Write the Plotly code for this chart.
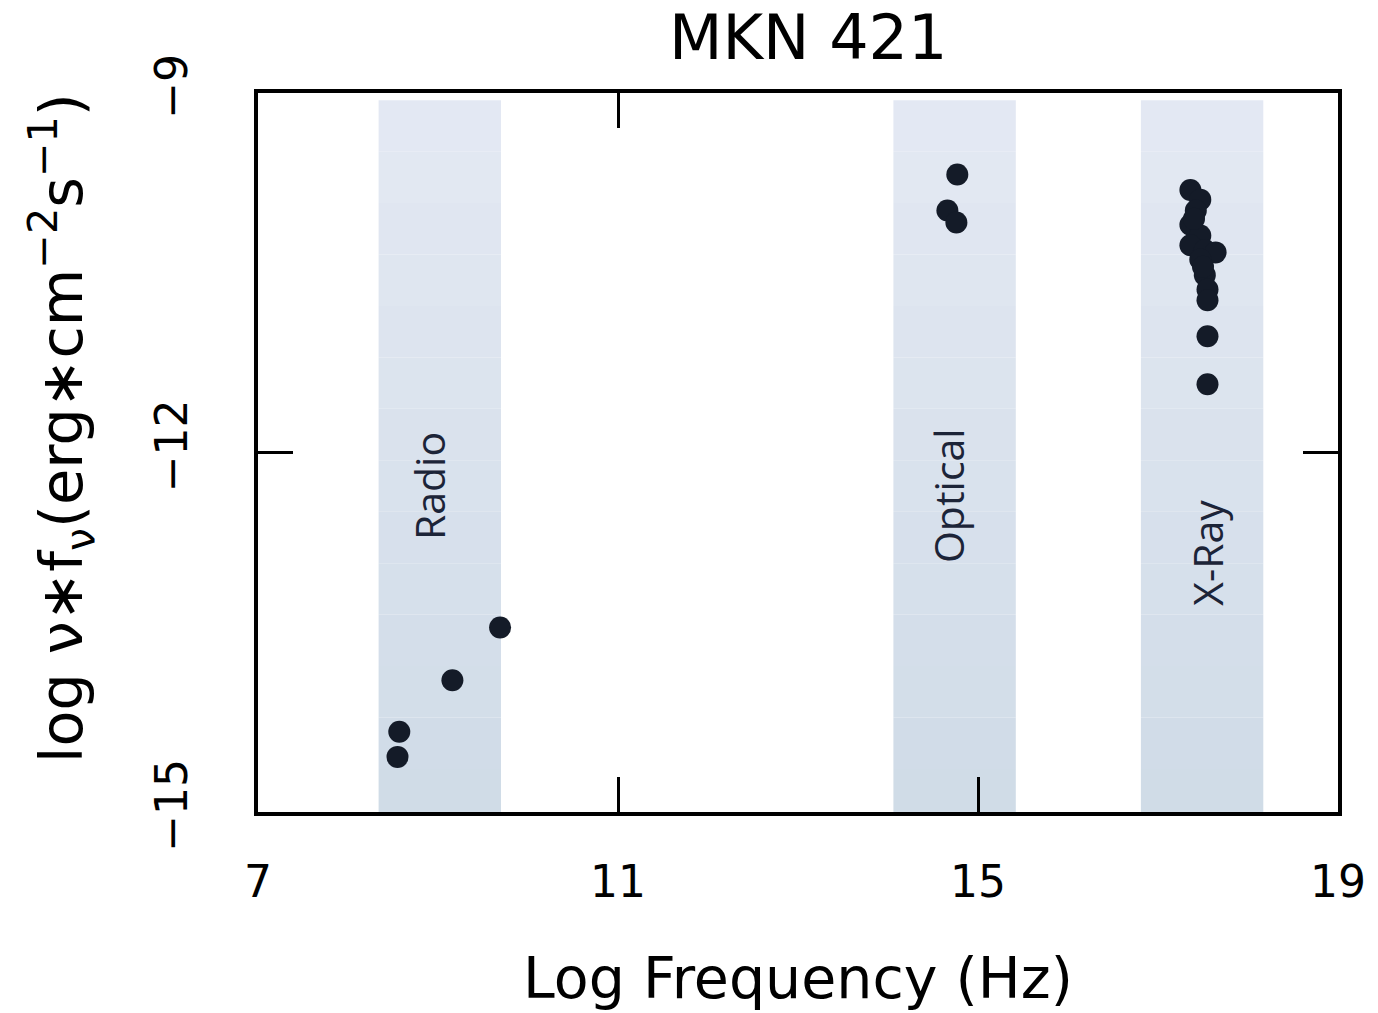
import plotly.graph_objects as go

# ---- data ----
radio_x = [8.57, 8.55, 9.16, 9.69]
radio_y = [-14.33, -14.54, -13.90, -13.46]
optical_x = [14.77, 14.66, 14.76]
optical_y = [-9.68, -9.98, -10.08]
xray_x = [17.36, 17.47, 17.42, 17.36, 17.47, 17.36, 17.52, 17.64, 17.47, 17.52, 17.55, 17.55, 17.55, 17.55, 17.40, 17.50]
xray_y = [-9.81, -9.89, -9.98, -10.10, -10.19, -10.27, -10.31, -10.33, -10.39, -10.52, -10.64, -10.73, -11.03, -11.43, -10.05, -10.45]
band_names = ["Radio", "Optical", "X-Ray"]
band_lo = [8.34, 14.06, 16.81]
band_hi = [9.70, 15.42, 18.17]
band_label_x = [8.90, 14.66, 17.55]
band_label_y = [-12.28, -12.36, -12.84]
x_ticks = [7, 11, 15, 19]
x_top_ticks = [11]
y_ticks = [-15, -12, -9]
y_title = "log \u03bd\u2217f<sub>\u03bd</sub>(erg\u2217cm<sup>\u22122</sup>s<sup>\u22121</sup>)"

FONT = "DejaVu Sans, Liberation Sans, Arial, sans-serif"
DOT = "#141b28"

fig = go.Figure()

all_x = radio_x + optical_x + xray_x
all_y = radio_y + optical_y + xray_y
fig.add_trace(go.Scatter(x=all_x, y=all_y, mode="markers",
                         marker=dict(size=22, color=DOT), showlegend=False,
                         hoverinfo="x+y"))
# invisible trace so the top tick axis is drawn
fig.add_trace(go.Scatter(x=x_top_ticks, y=[-12], xaxis="x2", yaxis="y", mode="markers",
                         marker=dict(size=1, opacity=0), showlegend=False, hoverinfo="skip"))

# gradient bands
n = 14
c_top = (228, 233, 243)
c_bot = (207, 219, 231)
y_top, y_bot = -9.06, -15.07
for lo, hi in zip(band_lo, band_hi):
    for i in range(n):
        t = (i + 0.5) / n
        col = tuple(round(c_top[k] + (c_bot[k] - c_top[k]) * t) for k in range(3))
        y1 = y_top + (y_bot - y_top) * i / n
        y0 = y_top + (y_bot - y_top) * (i + 1) / n
        fig.add_shape(type="rect", xref="x", yref="y", x0=lo, x1=hi, y0=y0, y1=y1,
                      fillcolor="rgb(%d,%d,%d)" % col, line=dict(width=0), layer="below")

for name, lx, ly in zip(band_names, band_label_x, band_label_y):
    fig.add_annotation(x=lx, y=ly, text=name, textangle=-90, showarrow=False,
                       font=dict(family="Open Sans, Noto Sans, sans-serif", size=41, color="#1c2438"))

# y-axis title
fig.add_annotation(xref="paper", yref="paper", x=-0.1825, y=0.534, xanchor="center", yanchor="middle",
                   text=y_title, textangle=-90, showarrow=False,
                   font=dict(family=FONT, size=59, color="black"))

fig.update_layout(
    width=1378, height=1013,
    margin=dict(l=258, r=35, t=93, b=201),
    paper_bgcolor="white", plot_bgcolor="white",
    title=dict(text="MKN 421", x=0.5865, xanchor="center", y=0.963, yanchor="middle",
               font=dict(family=FONT, size=62, color="black")),
    xaxis=dict(range=[7, 19], tickvals=x_ticks, ticktext=[str(v) for v in x_ticks],
               ticks="inside", ticklen=35, tickwidth=3, tickcolor="black",
               showline=True, linewidth=3.5, linecolor="black", mirror=True,
               showgrid=False, zeroline=False, ticklabelstandoff=28,
               tickfont=dict(family=FONT, size=44, color="black"),
               title=dict(text="Log Frequency (Hz)", standoff=54,
                          font=dict(family=FONT, size=57, color="black"))),
    xaxis2=dict(range=[7, 19], overlaying="x", side="top", tickvals=x_top_ticks,
                ticks="inside", ticklen=35, tickwidth=3, tickcolor="black",
                showticklabels=False, showgrid=False, zeroline=False, showline=False),
    yaxis=dict(range=[-15, -9], tickvals=y_ticks, ticktext=["\u221215", "\u221212", "\u22129"],
               ticks="inside", ticklen=35, tickwidth=3, tickcolor="black",
               showline=True, linewidth=3.5, linecolor="black", mirror="ticks",
               showgrid=False, zeroline=False, tickangle=-90, ticklabelstandoff=50,
               tickfont=dict(family=FONT, size=44, color="black")),
)

fig.write_html("out.html")
